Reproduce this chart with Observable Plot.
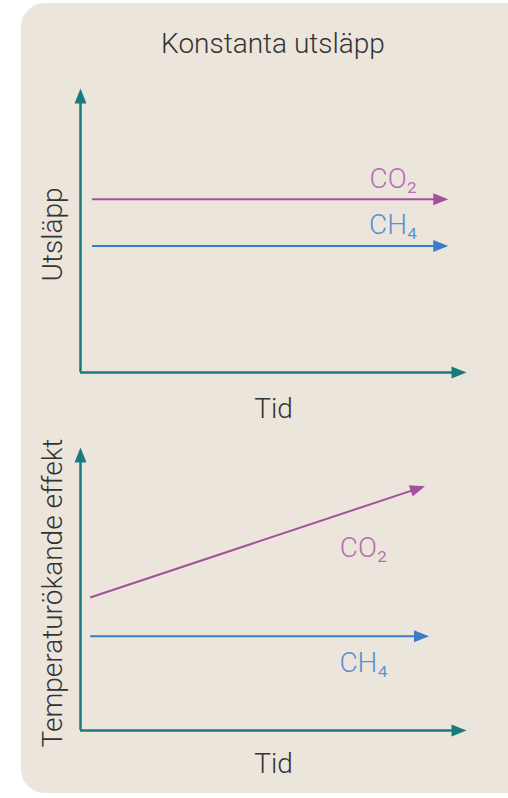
<!DOCTYPE html>
<html>
<head>
<meta charset="utf-8">
<script src="https://cdn.jsdelivr.net/npm/d3@7"></script>
<script src="https://cdn.jsdelivr.net/npm/@observablehq/plot@0.6"></script>
<style>
  html, body { margin: 0; padding: 0; background: #ffffff; }
  #root { position: relative; width: 508px; height: 798px; overflow: hidden; font-family: Roboto, "Noto Sans", sans-serif; }
  #panel { position: absolute; left: 21px; top: 3px; width: 510px; height: 790px; background: #ece5dc; border-radius: 24px; }
  #title { position: absolute; left: 0; width: 546px; top: 27px; text-align: center; font-size: 28px; color: #333; font-weight: 300; }
  .chart { position: absolute; left: 0; }
</style>
</head>
<body>
<div id="root">
  <div id="panel"></div>
  <div id="title">Konstanta utsläpp</div>
  <div id="top" class="chart" style="top:60px"></div>
  <div id="bottom" class="chart" style="top:430px"></div>
</div>
<script>
// ---- data ----
const title = "Konstanta utsläpp";
const xLabel = "Tid";
const topYLabel = "Utsläpp";
const bottomYLabel = "Temperaturökande effekt";
const gases = ["CO₂", "CH₄"];

// top panel: constant emissions (time from, time to, level)
const emissionStart = [0.3, 0.3];
const emissionEnd = [9.45, 9.45];
const emissionLevel = [6.1, 4.45];
const emissionLabelX = [8.1, 8.1];
const emissionLabelY = [6.8, 5.2];

// bottom panel: warming effect (start, end)
const effectX1 = [0.25, 0.25];
const effectX2 = [8.85, 8.95];
const effectY1 = [4.7, 3.33];
const effectY2 = [8.6, 3.33];
const effectLabelX = [7.33, 7.33];
const effectLabelY = [6.43, 2.4];

const axisMax = 10;

// ---- styles ----
const teal = "#1b7a7c";
const lineColor = {"CO₂": "#a44f9f", "CH₄": "#3c7bc6"};
const labelColor = {"CO₂": "#b46eb1", "CH₄": "#5b8fd2"};
const textColor = "#333333";
const font = "Roboto, 'Noto Sans', sans-serif";
const fs = 28;

// filled arrowhead, tip slightly beyond the anchor point, pointing up (-y)
const head = {
  draw(ctx) {
    ctx.moveTo(0, -3);
    ctx.lineTo(6, 12);
    ctx.lineTo(-6, 12);
    ctx.closePath();
  }
};

function makePlot(cfg, angles) {
  const lines = gases.map((g, i) => ({gas: g, x1: cfg.x1[i], x2: cfg.x2[i], y1: cfg.y1[i], y2: cfg.y2[i], lx: cfg.lx[i], ly: cfg.ly[i], rot: angles ? angles[i] : 90}));
  return Plot.plot({
    width: 508,
    height: cfg.height,
    marginLeft: 80,
    marginRight: 42,
    marginTop: cfg.marginTop,
    marginBottom: cfg.marginBottom,
    x: {domain: [0, axisMax], axis: null},
    y: {domain: [0, axisMax], axis: null},
    style: {background: "transparent", fontFamily: font, overflow: "visible"},
    marks: [
      // axes
      Plot.ruleY([0], {x1: 0, x2: axisMax - 0.2, stroke: teal, strokeWidth: 2.5}),
      Plot.ruleX([0], {y1: 0, y2: axisMax - 0.3, stroke: teal, strokeWidth: 2.5}),
      Plot.dot([{x: axisMax, y: 0}], {x: "x", y: "y", symbol: head, fill: teal, stroke: null, rotate: 90, dx: -3}),
      Plot.dot([{x: 0, y: axisMax}], {x: "x", y: "y", symbol: head, fill: teal, stroke: null, dy: 3}),
      // series
      Plot.link(lines, {x1: "x1", y1: "y1", x2: "x2", y2: "y2", stroke: d => lineColor[d.gas], strokeWidth: 2}),
      Plot.dot(lines, {x: "x2", y: "y2", symbol: head, fill: d => lineColor[d.gas], stroke: null, rotate: "rot"}),
      Plot.text(lines, {x: "lx", y: "ly", text: "gas", fill: d => labelColor[d.gas], fontSize: fs, fontWeight: 300, fontFamily: font}),
      // axis titles
      Plot.text([xLabel], {frameAnchor: "bottom", textAnchor: "middle", dy: cfg.xLabelDy, fontSize: fs, fontWeight: 300, fill: textColor, fontFamily: font}),
      Plot.text([cfg.yLabel], {frameAnchor: "left", textAnchor: "middle", dx: -27, dy: cfg.yLabelDy, rotate: -90, fontSize: fs, fontWeight: 300, fill: textColor, fontFamily: font})
    ]
  });
}

function angleList(cfg, plot) {
  const sx = plot.scale("x"), sy = plot.scale("y");
  return gases.map((g, i) => {
    const dx = sx.apply(cfg.x2[i]) - sx.apply(cfg.x1[i]);
    const dy = sy.apply(cfg.y2[i]) - sy.apply(cfg.y1[i]);
    return 90 + Math.atan2(dy, dx) * 180 / Math.PI;
  });
}

function render(id, cfg) {
  const pre = makePlot(cfg, null);
  const plot = makePlot(cfg, angleList(cfg, pre));
  document.getElementById(id).appendChild(plot);
}

render("top", {
  height: 370, marginTop: 28, marginBottom: 58,
  x1: emissionStart, x2: emissionEnd, y1: emissionLevel, y2: emissionLevel,
  lx: emissionLabelX, ly: emissionLabelY,
  xLabelDy: 45, yLabel: topYLabel, yLabelDy: 4
});
render("bottom", {
  height: 368, marginTop: 17, marginBottom: 68,
  x1: effectX1, x2: effectX2, y1: effectY1, y2: effectY2,
  lx: effectLabelX, ly: effectLabelY,
  xLabelDy: 42, yLabel: bottomYLabel, yLabelDy: 4
});
</script>
</body>
</html>
